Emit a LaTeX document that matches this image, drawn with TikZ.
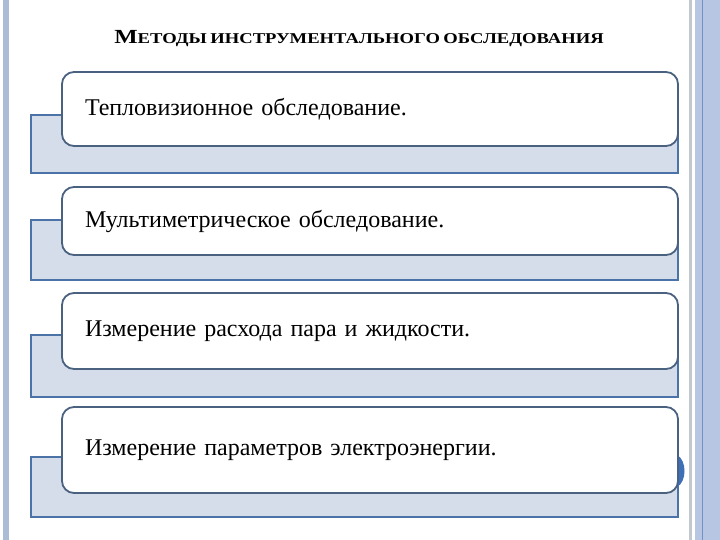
\documentclass[tikz,border=0pt]{standalone}
\usepackage{fontspec}
\setmainfont[WordSpace=0.75]{Liberation Serif}
\definecolor{backfill}{HTML}{D5DCEA}
\definecolor{backline}{HTML}{4C73A8}
\definecolor{frontline}{HTML}{4A6180}
\definecolor{leftstripe}{HTML}{AABCD6}
\definecolor{rightband}{HTML}{B6C6E3}
\definecolor{rightline}{HTML}{7490C6}
\definecolor{grayline}{HTML}{C3C7CE}
\definecolor{bulge}{HTML}{3E70B8}
\begin{document}
\begin{tikzpicture}[x=1pt,y=-1pt,
  backbox/.style={draw=backline, fill=backfill, line width=1.3pt, rectangle, inner sep=0pt},
  frontbox/.style={draw=frontline, fill=white, line width=1.8pt, rounded corners=12pt,
     inner xsep=23pt, inner ysep=0pt, text width=570pt, align=left, minimum height=#1,
     font=\fontsize{24}{28}\selectfont},
  titletext/.style={font=\bfseries}
]
\useasboundingbox (0,0) rectangle (720,540);
% page frame
\fill[white] (0,0) rectangle (720,540);
\fill[leftstripe] (3,0) rectangle (9,540);
\fill[grayline] (689,0) rectangle (692,540);
\fill[rightband] (695,0) rectangle (720,540);
\fill[rightline] (701.5,0) rectangle (703,540);
% title
\node[titletext] (title) at (359,39) {\scalebox{1.24}[1]{{\fontsize{20}{22}\selectfont М}{\fontsize{15}{17}\selectfont ЕТОДЫ ИНСТРУМЕНТАЛЬНОГО ОБСЛЕДОВАНИЯ}}};
% back boxes
\node[backbox, minimum width=647pt, minimum height=58pt] (b1) at (354.5,144) {};
\node[backbox, minimum width=647pt, minimum height=60pt] (b2) at (354.5,250) {};
\node[backbox, minimum width=647pt, minimum height=62pt] (b3) at (354.5,366) {};
\node[backbox, minimum width=647pt, minimum height=60pt] (b4) at (354.5,487) {};
% bulge on last box
\fill[bulge] (677,455) .. controls (687,460) and (687,482) .. (677,487) -- cycle;
% front boxes
\node[frontbox=74pt] (f1) at (370,109) {Тепловизионное обследование.};
\node[frontbox=68pt] (f2) at (370,221) {Мультиметрическое обследование.};
\node[frontbox=76pt] (f3) at (370,331) {Измерение расхода пара и жидкости.};
\node[frontbox=86pt] (f4) at (370,450) {\raisebox{-4pt}{Измерение параметров электроэнергии.}};
\end{tikzpicture}
\end{document}
